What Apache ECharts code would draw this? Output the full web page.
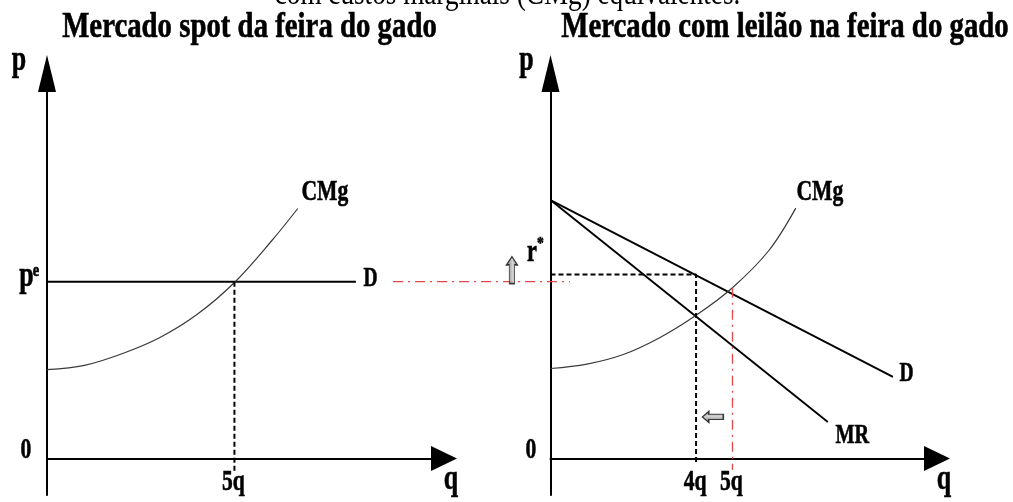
<!DOCTYPE html>
<html>
<head>
<meta charset="utf-8">
<script src="https://cdn.jsdelivr.net/npm/echarts@6/dist/echarts.min.js"></script>
<style>
  html, body { margin: 0; padding: 0; background: #fff; }
  #chart { width: 1013px; height: 502px; }
</style>
</head>
<body>
<div id="chart"></div>
<script>
// ---------- data ----------
const titles = ['Mercado spot da feira do gado', 'Mercado com leilão na feira do gado'];
const caption = 'com custos marginais (CMg) equivalentes.';

// spot market (left panel)
const pe = 4.42;                                   // spot equilibrium price p^e
const spotDemandQ = [0, 8.24];                     // horizontal demand D spans these q
const spotCMg = [[0, 2.22], [1, 2.33], [2, 2.62], [3, 3.02], [4, 3.6], [5, 4.4], [6, 5.45], [6.69, 6.25]];
const spotTickValues = [5];
const spotTickLabels = ['5q'];
const peCarryQ = [9.23, 13.95];                    // p^e level carried across to the auction panel

// auction market (right panel)
const auctionDemand = [[0, 6.46], [9.41, 2.04]];
const auctionMR = [[0, 6.46], [7.62, 0.91]];
const auctionCMg = [[0, 2.25], [1, 2.36], [2, 2.6], [3, 3.02], [4, 3.58], [5, 4.27], [6, 5.2], [6.74, 6.26]];
const rStar = 4.6;                                 // reserve price r*
const auctionTickValues = [4, 5];
const auctionTickLabels = ['4q', '5q'];
const shiftArrows = [[-1.06, 4.71], [4.46, 1.04]]; // r* rises, quantity falls

// ---------- chart ----------
const chart = echarts.init(document.getElementById('chart'), null, { renderer: 'canvas' });

const FONT = '"Liberation Serif", "Times New Roman", serif';
const X_MAX = [10.59, 10.62];
const Y_MIN = -0.9125, Y_MAX = 9.625;

function xAxisFor(i) {
  return {
    gridIndex: i, type: 'value', min: 0, max: X_MAX[i],
    axisLine: { show: true, onZero: true, lineStyle: { color: '#000', width: 2 },
                symbol: ['none', 'triangle'], symbolSize: [25, 26] },
    axisTick: { show: false }, axisLabel: { show: false }, splitLine: { show: false }
  };
}
function yAxisFor(i) {
  return {
    gridIndex: i, type: 'value', min: Y_MIN, max: Y_MAX,
    axisLine: { show: true, onZero: true, lineStyle: { color: '#000', width: 2 },
                symbol: ['none', 'triangle'], symbolSize: [18, 37] },
    axisTick: { show: false }, axisLabel: { show: false }, splitLine: { show: false }
  };
}
function line(grid, data, style, extra) {
  return Object.assign({
    type: 'line', xAxisIndex: grid, yAxisIndex: grid, data: data,
    symbol: 'none', silent: true, clip: false, z: 3,
    lineStyle: style
  }, extra || {});
}

const solid = { color: '#000', width: 1.9 };
const curve = { color: '#3a3a3a', width: 1.2 };
const dashed = { color: '#000', width: 2, type: [5, 3] };
const redDashDot = { color: '#e4484b', width: 1.3, type: [10, 5, 2, 5] };

const blockArrow = 'path://M5 0 L10 8 L7.4 8 L7.4 26 L2.6 26 L2.6 8 L0 8 Z';
const arrowFill = {
  type: 'linear', x: 0, y: 0, x2: 1, y2: 0,
  colorStops: [{ offset: 0, color: '#555' }, { offset: 0.55, color: '#c8c8c8' }, { offset: 1, color: '#777' }]
};

const auctionCMgAt5 = auctionCMg.find(p => p[0] === 5)[1];

const option = {
  animation: false,
  backgroundColor: '#fff',
  grid: [
    { left: 47, top: 73.5, width: 397, height: 421.5 },
    { left: 550.5, top: 73.5, width: 386.5, height: 421.5 },
    // strip between the panels, on the spot panel's scale
    { left: 380, top: 73.5, width: 200, height: 421.5 }
  ],
  xAxis: [xAxisFor(0), xAxisFor(1),
    { gridIndex: 2, type: 'value', min: 8.882, max: 14.217, show: false }],
  yAxis: [yAxisFor(0), yAxisFor(1),
    { gridIndex: 2, type: 'value', min: Y_MIN, max: Y_MAX, show: false }],
  series: [
    // left panel
    line(0, spotDemandQ.map(q => [q, pe]), solid),
    line(0, spotCMg, curve, { smooth: 0.35 }),
    line(0, [[spotTickValues[0], pe], [spotTickValues[0], -0.36]], dashed),
    // spot price carried over to the auction panel
    line(2, peCarryQ.map(q => [q, pe]), redDashDot),
    // right panel
    line(1, auctionDemand, solid),
    line(1, auctionMR, solid),
    line(1, auctionCMg, curve, { smooth: 0.35 }),
    line(1, [[0, rStar], [auctionTickValues[0], rStar], [auctionTickValues[0], -0.12]], dashed),
    line(1, [[auctionTickValues[1], auctionCMgAt5], [auctionTickValues[1], -0.29]], redDashDot),
    // shift arrows
    {
      type: 'scatter', xAxisIndex: 1, yAxisIndex: 1, silent: true, clip: false, z: 5,
      symbol: blockArrow,
      data: [
        { value: shiftArrows[0], symbolSize: [11, 27], symbolRotate: 0 },
        { value: shiftArrows[1], symbolSize: [11, 21], symbolRotate: 90 }
      ],
      itemStyle: { color: arrowFill, borderColor: '#111', borderWidth: 1.2 }
    }
  ]
};
chart.setOption(option);

// ---------- text ----------
function txt(text, cx, baseline, size, opts) {
  opts = opts || {};
  const bold = (opts.weight || 'bold') === 'bold';
  return {
    type: 'text', x: cx, y: baseline - 0.33 * size, silent: true, z: 10,
    scaleX: opts.sx || 0.72,
    style: {
      text: text, x: 0, y: 0, fill: '#000',
      stroke: bold ? '#000' : null, lineWidth: bold ? 0.6 : 0,
      font: (opts.weight || 'bold') + ' ' + size + 'px ' + FONT,
      align: opts.align || 'center', verticalAlign: 'middle'
    }
  };
}
const px = (g, v) => chart.convertToPixel({ gridIndex: g }, v);
const last = arr => arr[arr.length - 1];

const texts = [];
texts.push(txt(caption, 507.5, 6, 34, { weight: 'normal', sx: 0.8 }));
texts.push(txt(titles[0], 249.5, 40, 36, { sx: 0.8 }));
texts.push(txt(titles[1], 785, 40, 36, { sx: 0.8 }));

[0, 1].forEach(g => {
  const o = px(g, [0, 0]);
  const top = px(g, [0, Y_MAX]);
  const end = px(g, [X_MAX[g], 0]);
  texts.push(txt('p', o[0] + (g === 0 ? -28 : -24), top[1] - 1, 36));
  texts.push(txt('0', o[0] + (g === 0 ? -21 : -19.5), o[1] + 1.5, 30));
  texts.push(txt('q', end[0] + 7, o[1] + 33.5, 36));
  const tv = g === 0 ? spotTickValues : auctionTickValues;
  const tl = g === 0 ? spotTickLabels : auctionTickLabels;
  tv.forEach((v, i) => {
    const p = px(g, [v, 0]);
    texts.push(txt(tl[i], p[0] - 1, p[1] + 34, 30));
  });
});

// p^e on the spot price axis
const peP = px(0, [0, pe]);
texts.push(txt('p', peP[0] - 20.5, peP[1] + 7.3, 36));
texts.push(txt('e', peP[0] - 11, peP[1] - 4.5, 18, { sx: 0.8 }));
// r* on the auction price axis
const rP = px(1, [0, rStar]);
texts.push(txt('r', rP[0] - 18.5, rP[1] - 11.5, 31));
texts.push(txt('*', rP[0] - 10, rP[1] - 25, 17, { sx: 0.8 }));

// curve names
const dL = px(0, [last(spotDemandQ), pe]);
texts.push(txt('D', dL[0] + 14.5, dL[1] + 6.5, 27));
const cL = px(0, last(spotCMg));
texts.push(txt('CMg', cL[0] + 27, cL[1] - 6.5, 30));
const dR = px(1, last(auctionDemand));
texts.push(txt('D', dR[0] + 13.5, dR[1] + 6, 27));
const mR = px(1, last(auctionMR));
texts.push(txt('MR', mR[0] + 24.5, mR[1] + 23, 28));
const cR = px(1, last(auctionCMg));
texts.push(txt('CMg', cR[0] + 24, cR[1] - 6, 30));

chart.setOption({ graphic: { elements: texts } });
</script>
</body>
</html>
